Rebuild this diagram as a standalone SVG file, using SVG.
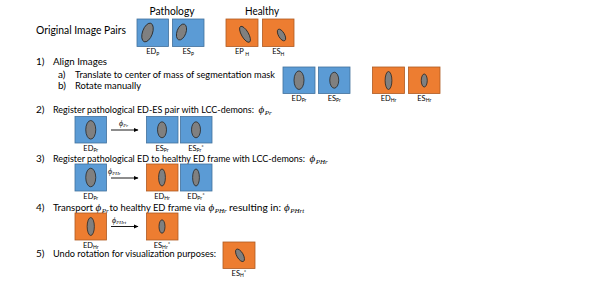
<svg xmlns="http://www.w3.org/2000/svg" width="598" height="284" viewBox="0 0 598 284">
<style>
  .t { font-family: Lato, "Open Sans", "Liberation Sans", sans-serif; fill: #000; }
  .h { font-size: 11px; }
  .s { font-size: 10px; }
  .l { font-size: 7.5px; text-anchor: middle; }
  .sub { font-size: 5px; }
  .ph { font-family: "Liberation Serif", "DejaVu Serif", serif; font-style: italic; fill: #000; }
  .bl { fill: #5B9BD5; stroke: #41719C; stroke-width: 0.8; }
  .or { fill: #ED7D31; stroke: #AE5A21; stroke-width: 0.8; }
  .el { fill: #808080; stroke: #262626; stroke-width: 0.8; }
  .ar { stroke: #000; stroke-width: 0.9; fill: none; marker-end: url(#ah); }
</style>
<defs>
  <marker id="ah" markerWidth="5" markerHeight="5" refX="4" refY="2.5" orient="auto" markerUnits="userSpaceOnUse">
    <path d="M0,0.5 L4.5,2.5 L0,4.5 Z" fill="#000"/>
  </marker>
</defs>

<g id="texts">
  <text class="t h" x="172" y="14.5" text-anchor="middle" textLength="45" lengthAdjust="spacingAndGlyphs">Pathology</text>
  <text class="t h" x="262" y="14.5" text-anchor="middle" textLength="34" lengthAdjust="spacingAndGlyphs">Healthy</text>
  <text class="t h" x="36" y="34" textLength="90" lengthAdjust="spacingAndGlyphs">Original Image Pairs</text>

  <text class="t s" x="36" y="65">1)</text>
  <text class="t s" x="53" y="65" textLength="54" lengthAdjust="spacingAndGlyphs">Align Images</text>
  <text class="t s" x="58" y="77.5">a)</text>
  <text class="t s" x="75" y="77.5" textLength="200" lengthAdjust="spacingAndGlyphs">Translate to center of mass of segmentation mask</text>
  <text class="t s" x="58" y="89">b)</text>
  <text class="t s" x="75" y="89" textLength="66" lengthAdjust="spacingAndGlyphs">Rotate manually</text>

  <text class="t s" x="36" y="113">2)</text>
  <text class="t s" x="53" y="113" textLength="201" lengthAdjust="spacingAndGlyphs">Register pathological ED-ES pair with LCC-demons:</text>
  <text class="ph" x="258.5" y="113" font-size="11">ϕ<tspan font-size="7" dx="0.5" dy="2">Pr</tspan></text>

  <text class="t s" x="36" y="162">3)</text>
  <text class="t s" x="53" y="162" textLength="252" lengthAdjust="spacingAndGlyphs">Register pathological ED to healthy ED frame with LCC-demons:</text>
  <text class="ph" x="309.5" y="162" font-size="11">ϕ<tspan font-size="7" dx="0.5" dy="2">PHr</tspan></text>

  <text class="t s" x="36" y="210.5">4)</text>
  <text class="t s" x="53" y="210.5" textLength="40" lengthAdjust="spacingAndGlyphs">Transport</text>
  <text class="ph" x="95.5" y="210.5" font-size="11">ϕ<tspan font-size="7" dx="0.5" dy="2">Pr</tspan></text>
  <text class="t s" x="109.5" y="210.5" textLength="96" lengthAdjust="spacingAndGlyphs">to healthy ED frame via</text>
  <text class="ph" x="208.5" y="210.5" font-size="11">ϕ<tspan font-size="7" dx="0.5" dy="2">PHr</tspan></text>
  <text class="t s" x="229" y="210.5" textLength="52" lengthAdjust="spacingAndGlyphs">resulting in:</text>
  <text class="ph" x="284" y="210.5" font-size="11">ϕ<tspan font-size="7" dx="0.5" dy="2">PHrt</tspan></text>

  <text class="t s" x="36" y="257">5)</text>
  <text class="t s" x="53" y="257" textLength="163" lengthAdjust="spacingAndGlyphs">Undo rotation for visualization purposes:</text>
</g>

<!-- Row 0: original image pairs -->
<g id="n-ed-p">
  <rect class="bl" x="137" y="19" width="31.5" height="27.5"/>
  <ellipse class="el" cx="147.5" cy="32.5" rx="5" ry="9.8" transform="rotate(20 147.5 32.5)"/>
  <text class="t l" x="152.75" y="54">ED<tspan class="sub" dy="1.5">P</tspan></text>
</g>
<g id="n-es-p">
  <rect class="bl" x="172.5" y="19" width="31.5" height="27.5"/>
  <ellipse class="el" cx="181.5" cy="32" rx="4.5" ry="8.3" transform="rotate(20 181.5 32)"/>
  <text class="t l" x="188.25" y="54">ES<tspan class="sub" dy="1.5">P</tspan></text>
</g>
<g id="n-ep-h">
  <rect class="or" x="226" y="19" width="32" height="27.5"/>
  <ellipse class="el" cx="245" cy="34.3" rx="3.5" ry="9" transform="rotate(-30 245 34.3)"/>
  <text class="t l" x="242" y="54">EP<tspan class="sub" dy="1.5"> H</tspan></text>
</g>
<g id="n-es-h">
  <rect class="or" x="262.5" y="19" width="31.5" height="27.5"/>
  <ellipse class="el" cx="281.5" cy="35" rx="3" ry="6.5" transform="rotate(-30 281.5 35)"/>
  <text class="t l" x="278.25" y="54">ES<tspan class="sub" dy="1.5">H</tspan></text>
</g>

<!-- Row 1: aligned images -->
<g id="n-ed-pr-1">
  <rect class="bl" x="283" y="67" width="32" height="26.5"/>
  <ellipse class="el" cx="299" cy="80.2" rx="5" ry="9.3"/>
  <text class="t l" x="299" y="100.5">ED<tspan class="sub" dy="1.5">Pr</tspan></text>
</g>
<g id="n-es-pr-1">
  <rect class="bl" x="318.5" y="67" width="31.5" height="26.5"/>
  <ellipse class="el" cx="334.25" cy="80.2" rx="4.5" ry="8"/>
  <text class="t l" x="334.25" y="100.5">ES<tspan class="sub" dy="1.5">Pr</tspan></text>
</g>
<g id="n-ed-hr-1">
  <rect class="or" x="372.5" y="67" width="32" height="26.5"/>
  <ellipse class="el" cx="388.5" cy="80.5" rx="3.4" ry="9"/>
  <text class="t l" x="388.5" y="100.5">ED<tspan class="sub" dy="1.5">Hr</tspan></text>
</g>
<g id="n-es-hr-1">
  <rect class="or" x="408.5" y="67" width="31.5" height="26.5"/>
  <ellipse class="el" cx="424.25" cy="80.5" rx="3" ry="6.5"/>
  <text class="t l" x="424.25" y="100.5">ES<tspan class="sub" dy="1.5">Hr</tspan></text>
</g>

<!-- Row 2 -->
<g id="n-ed-pr-2">
  <rect class="bl" x="75" y="116.5" width="31.5" height="26.5"/>
  <ellipse class="el" cx="90.75" cy="129.8" rx="5" ry="9.3"/>
  <text class="t l" x="90.75" y="150.5">ED<tspan class="sub" dy="1.5">Pr</tspan></text>
</g>
<g id="n-es-pr-2">
  <rect class="bl" x="146.5" y="116.5" width="31.5" height="26.5"/>
  <ellipse class="el" cx="162" cy="129.8" rx="4.5" ry="8"/>
  <text class="t l" x="162" y="150.5">ES<tspan class="sub" dy="1.5">Pr</tspan></text>
</g>
<g id="n-es-pr-star-2">
  <rect class="bl" x="180.5" y="116.5" width="31.5" height="26.5"/>
  <ellipse class="el" cx="196" cy="129.8" rx="4.5" ry="8"/>
  <text class="t l" x="196" y="150.5">ES<tspan class="sub" dy="1.5">Pr</tspan><tspan dy="-3.5" font-size="6">*</tspan></text>
</g>

<!-- Row 3 -->
<g id="n-ed-pr-3">
  <rect class="bl" x="75" y="164" width="31.5" height="27"/>
  <ellipse class="el" cx="90.75" cy="177.5" rx="5" ry="9.3"/>
  <text class="t l" x="90.75" y="198.5">ED<tspan class="sub" dy="1.5">Pr</tspan></text>
</g>
<g id="n-ed-hr-3">
  <rect class="or" x="146.5" y="164" width="31.5" height="27"/>
  <ellipse class="el" cx="162" cy="177.5" rx="3.4" ry="8.5"/>
  <text class="t l" x="162" y="198.5">ED<tspan class="sub" dy="1.5">Hr</tspan></text>
</g>
<g id="n-ed-pr-star-3">
  <rect class="bl" x="180.5" y="164" width="31.5" height="27"/>
  <ellipse class="el" cx="196" cy="177.5" rx="3.4" ry="8.5"/>
  <text class="t l" x="196" y="198.5">ED<tspan class="sub" dy="1.5">Pr</tspan><tspan dy="-3.5" font-size="6">*</tspan></text>
</g>

<!-- Row 4 -->
<g id="n-ed-hr-4">
  <rect class="or" x="75" y="213" width="31.5" height="27"/>
  <ellipse class="el" cx="90.75" cy="226.5" rx="3.6" ry="9"/>
  <text class="t l" x="90.75" y="247.5">ED<tspan class="sub" dy="1.5">Hr</tspan></text>
</g>
<g id="n-es-hr-star-4">
  <rect class="or" x="146.5" y="213" width="31.5" height="27"/>
  <ellipse class="el" cx="162" cy="226.5" rx="3" ry="6.7"/>
  <text class="t l" x="162" y="247.5">ES<tspan class="sub" dy="1.5">Hr</tspan><tspan dy="-3.5" font-size="6">*</tspan></text>
</g>

<!-- Row 5 -->
<g id="n-es-h-star-5">
  <rect class="or" x="223" y="242" width="32" height="26.5"/>
  <ellipse class="el" cx="240" cy="255.3" rx="3.2" ry="7" transform="rotate(-30 240 255.3)"/>
  <text class="t l" x="239" y="275.5">ES<tspan class="sub" dy="1.5">H</tspan><tspan dy="-3.5" font-size="6">*</tspan></text>
</g>

<g id="connectors">
  <line class="ar" x1="111" y1="130" x2="138" y2="130"/>
  <text class="ph" x="119" y="126" font-size="8">ϕ<tspan font-size="5" dy="1">Pr</tspan></text>
  <line class="ar" x1="111" y1="178" x2="138" y2="178"/>
  <text class="ph" x="108" y="174" font-size="8">ϕ<tspan font-size="5" dy="1">PHr</tspan></text>
  <line class="ar" x1="111" y1="226.5" x2="138" y2="226.5"/>
  <text class="ph" x="112" y="222.5" font-size="8">ϕ<tspan font-size="5" dy="1">PHrt</tspan></text>
</g>
</svg>
